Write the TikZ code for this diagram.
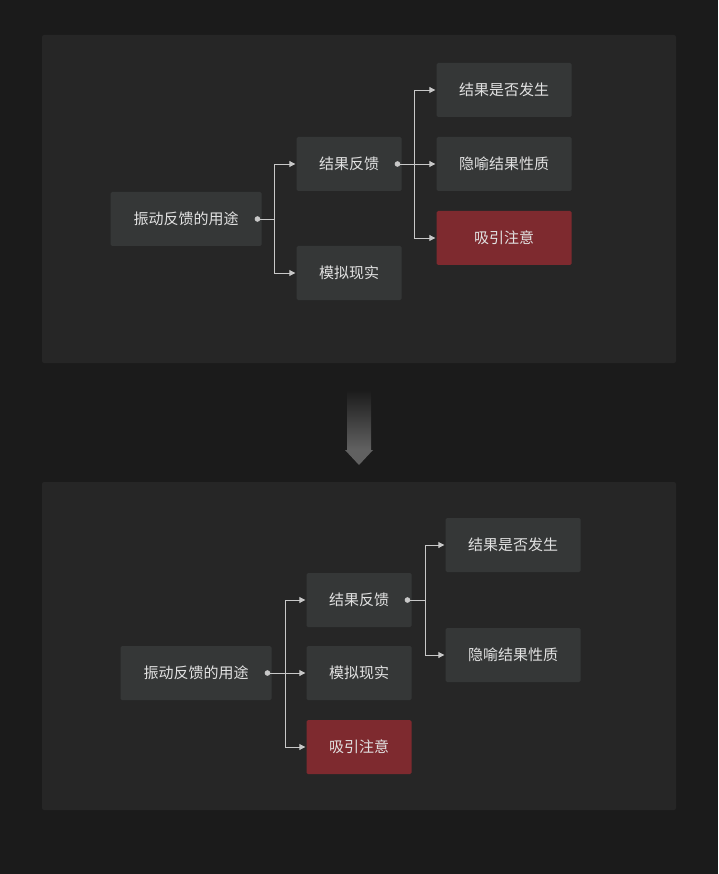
\documentclass[tikz,border=0pt]{standalone}
\usepackage{fontspec}
\setmainfont{Noto Sans CJK SC}
\usetikzlibrary{arrows.meta,positioning,calc}
\definecolor{bgcol}{HTML}{1B1B1B}
\definecolor{panelcol}{HTML}{262626}
\definecolor{boxcol}{HTML}{353737}
\definecolor{redcol}{HTML}{7E2A2F}
\definecolor{txtcol}{HTML}{E2E2E2}
\definecolor{linecol}{HTML}{C8C8C8}
\tikzset{
  box/.style={fill=boxcol, rounded corners=1.5pt, minimum height=54pt, text=txtcol, font=\fontsize{15pt}{17pt}\selectfont, inner sep=0pt},
  wide/.style={box, minimum width=135pt},
  mid/.style={box, minimum width=105pt},
  rootbox/.style={box, minimum width=151pt},
  hot/.style={fill=redcol},
  link/.style={draw=linecol, line width=0.9pt, {Circle[length=5.5pt]}-{Triangle[length=6pt,width=6pt]}},
  branch/.style={draw=linecol, line width=0.9pt, -{Triangle[length=6pt,width=6pt]}}
}
\begin{document}
\begin{tikzpicture}[x=1pt,y=-1pt]
  \fill[bgcol] (0,0) rectangle (718,874); % whole page
  \fill[panelcol, rounded corners=2pt] (42,35) rectangle (676,363);
  \fill[panelcol, rounded corners=2pt] (42,482) rectangle (676,810);

  % top tree
  \node[rootbox] (ra) at (186,219) {振动反馈的用途};
  \node[mid] (fa) at (349,164) {结果反馈};
  \node[mid] (sa) at (349,273) {模拟现实};
  \node[wide] (oa) at (504,90) {结果是否发生};
  \node[wide] (ma) at (504,164) {隐喻结果性质};
  \node[wide, hot] (ga) at (504,238) {吸引注意};
  \coordinate (da) at ($(ra.east)+(-7,0)$);
  \coordinate (ea) at ($(fa.east)+(-7,0)$);
  \draw[link] (da) -- (274,219) |- ($(fa.west)+(-1,0)$);
  \draw[branch] (274,219) |- ($(sa.west)+(-1,0)$);
  \draw[link] (ea) -- ($(ma.west)+(-1,0)$);
  \foreach \t in {oa,ga}{
    \draw[branch] (414,164) |- ($(\t.west)+(-1,0)$);
  }

  % arrow between panels
  \shade[top color=bgcol, bottom color=gray!70!bgcol] (347,390) rectangle (371,450);
  \fill[gray!70!bgcol] (345,450) -- (373,450) -- (359,465) -- cycle;

  % bottom tree
  \node[rootbox] (rb) at (196,673) {振动反馈的用途};
  \node[mid] (fb) at (359,600) {结果反馈};
  \node[mid] (sb) at (359,673) {模拟现实};
  \node[mid, hot] (gb) at (359,747) {吸引注意};
  \node[wide] (ob) at (513,545) {结果是否发生};
  \node[wide] (mb) at (513,655) {隐喻结果性质};
  \coordinate (db) at ($(rb.east)+(-7,0)$);
  \coordinate (eb) at ($(fb.east)+(-7,0)$);
  \draw[link] (db) -- ($(sb.west)+(-1,0)$);
  \foreach \t in {fb,gb}{
    \draw[branch] (285,673) |- ($(\t.west)+(-1,0)$);
  }
  \draw[link] (eb) -- (425,600) |- ($(ob.west)+(-1,0)$);
  \draw[branch] (425,600) |- ($(mb.west)+(-1,0)$);
\end{tikzpicture}
\end{document}
